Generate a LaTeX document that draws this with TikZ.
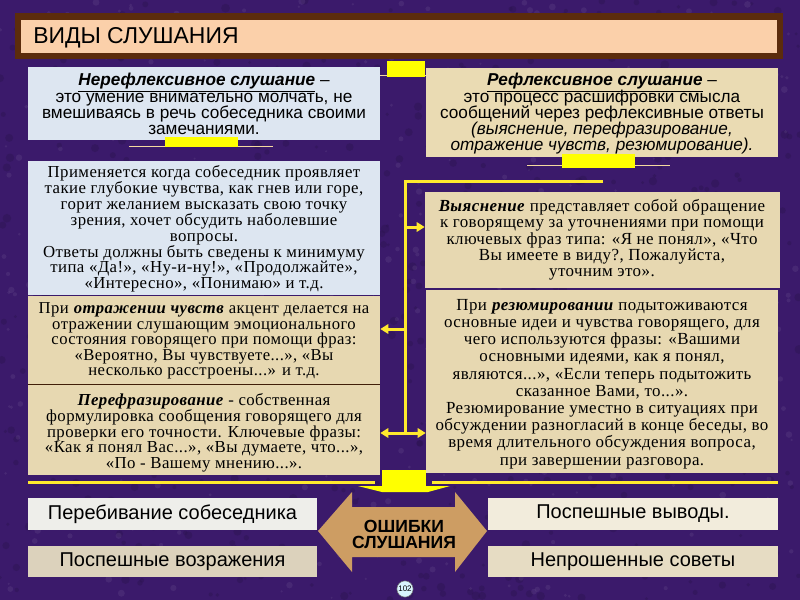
\documentclass[tikz,border=0pt]{standalone}
\usepackage{fontspec}
\setmainfont{Liberation Serif}[LetterSpace=2.5]
\newfontfamily\sansf{Liberation Sans}
\usetikzlibrary{arrows.meta,fit,calc}
\newlength\px \setlength\px{0.75pt}
\newcommand\tightlines{\lineskiplimit=-50pt\lineskip=0pt\relax}
\definecolor{bgc}{HTML}{3B1A6B}
\definecolor{brownc}{HTML}{5C2C0C}
\definecolor{peach}{HTML}{FBD0AA}
\definecolor{bluec}{HTML}{DDE6F1}
\definecolor{tanc}{HTML}{E7D8B1}
\definecolor{tanr}{HTML}{EADBB3}
\definecolor{ylw}{HTML}{FFFF00}
\definecolor{yline}{HTML}{FFE92E}
\definecolor{thinl}{HTML}{F5D9A0}
\definecolor{wood}{HTML}{CD9D63}
\definecolor{bA}{HTML}{EEEEEA}
\definecolor{bB}{HTML}{DCD2BC}
\definecolor{bC}{HTML}{F2ECDC}
\definecolor{bD}{HTML}{E6DCC3}
\begin{document}
\begin{tikzpicture}[x=0.75pt,y=-0.75pt,
  panel/.style={inner sep=0pt},
  txt/.style={inner sep=0pt, align=center, text=black},
  sanstxt/.style={txt, font=\sansf\fontsize{12.9}{12.2}\selectfont\tightlines},
  yl/.style={draw=yline, line width=3\px},
  arr/.style={yl, -{Triangle[width=7pt,length=6pt]}},
  arrb/.style={yl, {Triangle[width=7pt,length=6pt]}-{Triangle[width=7pt,length=6pt]}},
  thin/.style={draw=thinl, line width=1\px},
  blk/.style={fill=ylw},
  bottxt/.style={txt, font=\sansf\fontsize{15}{16}\selectfont},
  errtxt/.style={txt, font=\sansf\bfseries\fontsize{13.2}{12}\selectfont\tightlines}]
\useasboundingbox (0,0) rectangle (800,600);
\fill[bgc] (0,0) rectangle (800,600);
% mottled background texture
\pgfmathsetseed{7}
\foreach \i in {1,...,700}{
  \pgfmathsetmacro{\xx}{rnd*800}
  \pgfmathsetmacro{\yy}{rnd*600}
  \pgfmathsetmacro{\rr}{1.5+rnd*3}
  \fill[bgc!70!black, opacity=0.35] (\xx,\yy) circle[radius=\rr\px];
}
\foreach \i in {1,...,500}{
  \pgfmathsetmacro{\xx}{rnd*800}
  \pgfmathsetmacro{\yy}{rnd*600}
  \pgfmathsetmacro{\rr}{1+rnd*2.5}
  \fill[bgc!75!white, opacity=0.25] (\xx,\yy) circle[radius=\rr\px];
}

% title
\fill[brownc] (15,13) rectangle (783,59);
\node[panel, fit={(21,20) (777,53)}, fill=peach] (title) {};
\node[anchor=west, inner sep=0pt, font=\sansf\fontsize{17.2}{18}\selectfont] (ttext) at (33,38) {ВИДЫ СЛУШАНИЯ};

% top connector block
\draw[thin] (370,75) -- (440,75);
\fill[blk] (387,61) rectangle (425,77);

% left column
\node[panel, fit={(28,67) (380,140)}, fill=bluec] (nb) {};
\node[sanstxt] (nbt) at (204,104) {\underline{\textbf{\textit{Нерефлексивное слушание}}} –\\
это умение внимательно молчать, не\\
вмешиваясь в речь собеседника своими\\
замечаниями.};
\draw[thin] (129,146) -- (273,146);
\fill[blk] (165,137) rectangle (238,147);

\node[panel, fit={(28,161) (380,295)}, fill=bluec] (ap) {};
\node[txt, font=\fontsize{12.6}{11.9}\selectfont\tightlines] (apt) at (204,229) {Применяется когда собеседник проявляет\\
такие глубокие чувства, как гнев или горе,\\
горит желанием высказать свою точку\\
зрения, хочет обсудить наболевшие\\
вопросы.\\
Ответы должны быть сведены к минимуму\\
типа «Да!», «Ну-и-ну!», «Продолжайте»,\\
«Интересно», «Понимаю» и т.д.};

\node[panel, fit={(28,296) (380,384)}, fill=tanc] (ot) {};
\node[txt, font=\fontsize{12.5}{11.7}\selectfont\tightlines] (ott) at (204,341) {При \textbf{\textit{отражении чувств}} акцент делается на\\
отражении слушающим эмоционального\\
состояния говорящего при помощи фраз:\\
«Вероятно, Вы чувствуете...», «Вы\\
несколько расстроены...» и т.д.};
\node[panel, fit={(28,385) (380,475)}, fill=tanc] (pf) {};
\draw[brownc!70!black, line width=0.8\px] (ot.south west) -- (ot.south east);
\node[txt, font=\fontsize{12.6}{11.8}\selectfont\tightlines] (pft) at (204,433) {\textbf{\textit{Перефразирование}} - собственная\\
формулировка сообщения говорящего для\\
проверки его точности. Ключевые фразы:\\
«Как я понял Вас...», «Вы думаете, что...»,\\
«По - Вашему мнению...».};

% right column
\node[panel, fit={(426,68) (778,157)}, fill=tanr] (rf) {};
\node[sanstxt] (rft) at (602,114) {\underline{\textbf{\textit{Рефлексивное слушание}}} –\\
это процесс расшифровки смысла\\
сообщений через рефлексивные ответы\\
\textit{(выяснение, перефразирование,}\\
\textit{отражение чувств, резюмирование).}};
\draw[thin] (527,165) -- (670,165);
\fill[blk] (562,154) rectangle (635,168);

\node[panel, fit={(425,192) (780,288)}, fill=tanc] (vy) {};
\node[txt, font=\fontsize{12.7}{12.2}\selectfont\tightlines] (vyt) at (602,240) {\textbf{\textit{Выяснение}} представляет собой обращение\\
к говорящему за уточнениями при помощи\\
ключевых фраз типа: «Я не понял», «Что\\
Вы имеете в виду?, Пожалуйста,\hspace*{46pt}\\
уточним это».};

\node[panel, fit={(426,290) (778,473)}, fill=tanc] (rz) {};
\node[txt, font=\fontsize{12.7}{12.9}\selectfont\tightlines] (rzt) at (602,384) {При \textbf{\textit{резюмировании}} подытоживаются\\
основные идеи и чувства говорящего, для\\
чего используются фразы: «Вашими\\
основными идеями, как я понял,\\
являются...», «Если теперь подытожить\\
сказанное Вами, то...».\hspace*{87pt}\\
Резюмирование уместно в ситуациях при\\
обсуждении разногласий в конце беседы, во\\
время длительного обсуждения вопроса,\\
при завершении разговора.};

% yellow connector spine
\coordinate (tr) at (603,181);
\coordinate (tb) at (405,433);
\draw[yl] (tr) -| (tb);
\coordinate (a1) at (405,227);
\coordinate (a2) at (405,329);
\draw[arr] (a1) -- (a1 -| vy.west);
\draw[arr] (a2) -- (a2 -| ot.east);
\draw[arrb] (tb -| pf.east) -- (tb -| rz.west);

% bottom lines and block
\coordinate (l1) at (28,482); \coordinate (l2) at (375,482);
\coordinate (r1) at (432,482); \coordinate (r2) at (778,482);
\draw[yl] (l1) -- (l2);
\draw[yl] (r1) -- (r2);
\fill[blk] (382,470) rectangle (426,487);
\fill[blk] (358,486) -- (450,486) -- (428,492) -- (382,492) -- cycle;

% wooden double arrow
\fill[wood] (318,531) -- (352,492) -- (352,507) -- (455,507) -- (455,492) -- (487,531)
  -- (455,572) -- (455,557) -- (352,557) -- (352,572) -- cycle;
\node[errtxt] (err) at (404,534) {ОШИБКИ\\СЛУШАНИЯ};

% bottom boxes
\node[panel, fit={(28,498) (317,530)}, fill=bA] (e1) {};
\node[bottxt] (e1t) at (e1.center) {Перебивание собеседника};
\node[panel, fit={(28,546) (317,577)}, fill=bB] (e2) {};
\node[bottxt] (e2t) at (e2.center) {Поспешные возражения};
\node[panel, fit={(488,498) (778,530)}, fill=bC] (e3) {};
\node[bottxt] (e3t) at (e3.center) {Поспешные выводы.};
\node[panel, fit={(488,546) (778,577)}, fill=bD] (e4) {};
\node[bottxt] (e4t) at (e4.center) {Непрошенные советы};

% page number
\node[circle, fill=cyan!15, draw=black!60, line width=0.5\px, inner sep=0.5pt, minimum size=16\px, font=\sansf\fontsize{6}{6}\selectfont] (pg) at (405,589) {102};
\end{tikzpicture}
\end{document}
